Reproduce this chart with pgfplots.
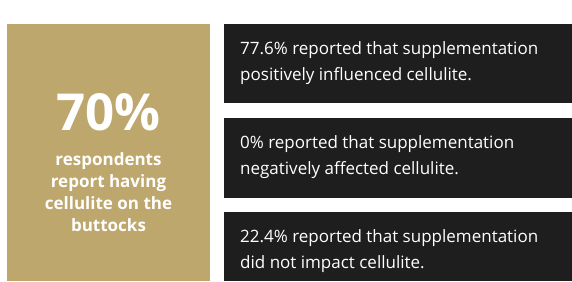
\documentclass[border=0pt]{standalone}
\usepackage{pgfplots}
\pgfplotsset{compat=1.18}
\usepackage{fontspec}
\setmainfont{Open Sans}
\definecolor{gold}{HTML}{BEA76C}
\definecolor{dark}{HTML}{1E1E1E}
\begin{document}
\begin{tikzpicture}
\begin{axis}[hide axis, scale only axis, width=572pt, height=281pt,
  xmin=0, xmax=572, ymin=0, ymax=281]
\addplot[draw=none, forget plot] coordinates {(0,0) (572,281)};
% gold panel: 70% of respondents
\addplot[draw=none, fill=gold] coordinates {(7,0) (210,0) (210,257) (7,257)} -- cycle;
% dark panels: 77.6%, 0%, 22.4%
\addplot[draw=none, fill=dark] coordinates {(224,178) (572,178) (572,257) (224,257)} -- cycle;
\addplot[draw=none, fill=dark] coordinates {(224,83) (572,83) (572,163) (224,163)} -- cycle;
\addplot[draw=none, fill=dark] coordinates {(224,0) (572,0) (572,69) (224,69)} -- cycle;
\begin{scope}[every node/.style={text=white, inner sep=0pt}]
\node[anchor=base, font=\bfseries\fontsize{51}{51}\selectfont] at (axis cs:108.5,150) {70\%};
\node[anchor=base, font=\bfseries\fontsize{17}{22}\selectfont] at (axis cs:108.5,115) {respondents};
\node[anchor=base, font=\bfseries\fontsize{17}{22}\selectfont] at (axis cs:108.5,93) {report having};
\node[anchor=base, font=\bfseries\fontsize{17}{22}\selectfont] at (axis cs:108.5,71) {cellulite on the};
\node[anchor=base, font=\bfseries\fontsize{17}{22}\selectfont] at (axis cs:108.5,49) {buttocks};
\node[anchor=base west, font=\fontsize{17}{26}\selectfont] at (axis cs:240,226) {77.6\% reported that supplementation};
\node[anchor=base west, font=\fontsize{17}{26}\selectfont] at (axis cs:240,200) {positively influenced cellulite.};
\node[anchor=base west, font=\fontsize{17}{26}\selectfont] at (axis cs:240,132) {0\% reported that supplementation};
\node[anchor=base west, font=\fontsize{17}{26}\selectfont] at (axis cs:240,106) {negatively affected cellulite.};
\node[anchor=base west, font=\fontsize{17}{26}\selectfont] at (axis cs:240,38.5) {22.4\% reported that supplementation};
\node[anchor=base west, font=\fontsize{17}{26}\selectfont] at (axis cs:240,12.5) {did not impact cellulite.};
\end{scope}
\end{axis}
\end{tikzpicture}
\end{document}
